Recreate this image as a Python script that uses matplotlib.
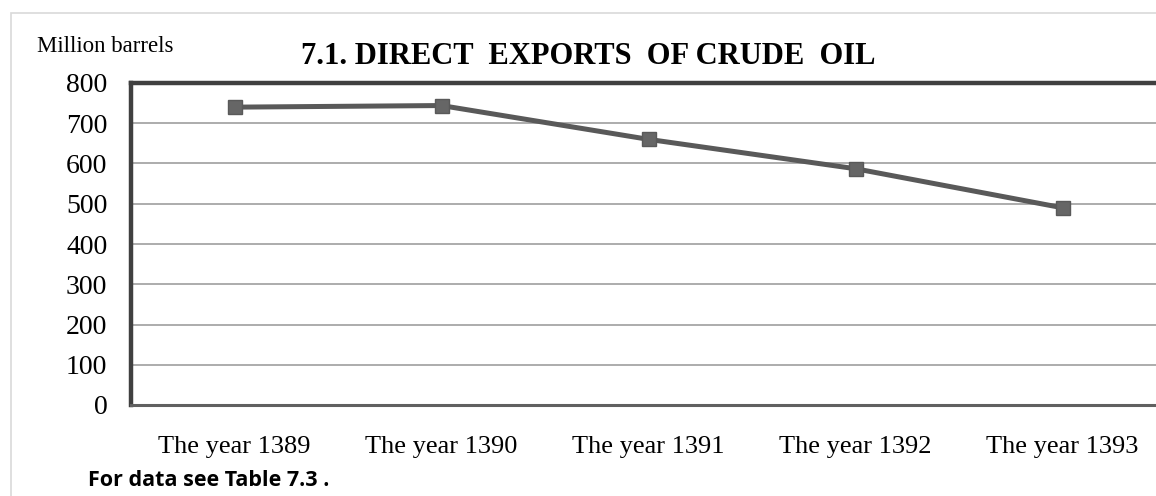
import matplotlib.pyplot as plt
from matplotlib.patches import Rectangle

years = ['The year 1389', 'The year 1390', 'The year 1391', 'The year 1392', 'The year 1393']
exports = [740, 744, 660, 587, 490]

plt.rcParams['font.family'] = ['Liberation Serif', 'DejaVu Serif']

fig = plt.figure(figsize=(11.56, 4.96), dpi=100)
W, H = 1156, 496
ax = fig.add_axes([131 / W, 1 - 405 / H, (1166 - 131) / W, (405 - 83) / H])

x = list(range(len(years)))
ax.plot(x, exports, color='#595959', lw=3.6, marker='s', ms=10,
        markerfacecolor='#666666', markeredgecolor='#595959', zorder=3)

ax.set_xlim(-0.5, len(years) - 0.5)
ax.set_ylim(0, 800)
ax.set_yticks(range(0, 801, 100))
ax.set_xticks(x)
ax.set_xticklabels(years, fontsize=19)
ax.tick_params(axis='y', labelsize=20, length=0, pad=17)
ax.tick_params(axis='x', length=0, pad=22)
ax.grid(axis='y', color='#a6a6a6', lw=1.3)
ax.set_axisbelow(True)

for s in ['top', 'left']:
    ax.spines[s].set_color('#404040')
    ax.spines[s].set_linewidth(3.2)
ax.spines['bottom'].set_color('#606060')
ax.spines['bottom'].set_linewidth(2.2)
ax.spines['right'].set_visible(False)

fig.text(588 / W, 1 - 57 / H, '7.1. DIRECT  EXPORTS  OF CRUDE  OIL', ha='center', va='center',
         fontsize=22, fontweight='bold')
fig.text(37 / W, 1 - 47 / H, 'Million barrels', ha='left', va='center', fontsize=16.5)
fig.text(88 / W, 1 - 480 / H, 'For data see Table 7.3 .', ha='left', va='center', fontsize=15.5,
         fontweight='bold', family=['Open Sans', 'DejaVu Sans'])

fig.patches.append(Rectangle((11 / W, -0.1), 1.2, 1 - 13 / H + 0.1, transform=fig.transFigure,
                             fill=False, edgecolor='#d9d9d9', lw=1.2))

fig.savefig('out.png', dpi=100)
